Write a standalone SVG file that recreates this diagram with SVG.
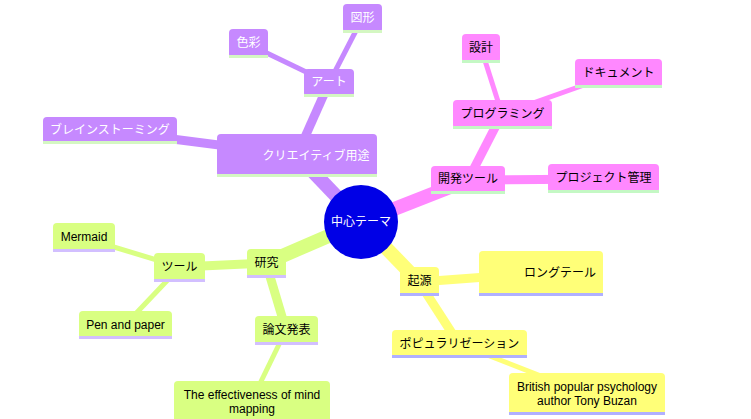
<svg xmlns="http://www.w3.org/2000/svg" width="751" height="419" viewBox="0 0 751 419">
<style>
text{font-family:"Liberation Sans","Noto Sans CJK JP",sans-serif;font-size:12px;text-anchor:middle;dominant-baseline:central}
.w{fill:#ffffff}.k{fill:#000000}
.p{fill:#c689ff}.pl{fill:#d4f7c2}
.m{fill:#ff88ff}.ml{fill:#c4f8c4}
.g{fill:#d9ff82}.gl{fill:#d2bfff}
.y{fill:#ffff78}.yl{fill:#b0b0ff}
line{stroke-linecap:butt}
.e1{stroke-width:14}.e2{stroke-width:9}.e3{stroke-width:5}
.sp{stroke:#c689ff}.sm{stroke:#ff88ff}.sg{stroke:#d9ff82}.sy{stroke:#ffff78}
</style>
<rect width="751" height="419" fill="#ffffff"/>
<g id="connectors">
<line class="sp e1" x1="361" y1="222" x2="297" y2="155"/>
<line class="sp e2" x1="297" y1="155" x2="329" y2="83"/>
<line class="sp e3" x1="329" y1="83" x2="248" y2="44"/>
<line class="sp e3" x1="329" y1="83" x2="362" y2="19"/>
<line class="sp e2" x1="297" y1="155" x2="110" y2="131"/>
<line class="sm e1" x1="361" y1="222" x2="468" y2="180"/>
<line class="sm e2" x1="468" y1="180" x2="502" y2="114"/>
<line class="sm e2" x1="468" y1="180" x2="604" y2="179"/>
<line class="sm e3" x1="502" y1="114" x2="481" y2="48"/>
<line class="sm e3" x1="502" y1="114" x2="618" y2="73"/>
<line class="sg e1" x1="361" y1="222" x2="266" y2="263"/>
<line class="sg e2" x1="266" y1="263" x2="180" y2="267"/>
<line class="sg e2" x1="266" y1="263" x2="286" y2="330"/>
<line class="sg e3" x1="180" y1="267" x2="84" y2="238"/>
<line class="sg e3" x1="180" y1="267" x2="125" y2="325"/>
<line class="sg e3" x1="286" y1="330" x2="252" y2="400"/>
<line class="sy e1" x1="361" y1="222" x2="419" y2="282"/>
<line class="sy e2" x1="419" y1="282" x2="541" y2="273"/>
<line class="sy e2" x1="419" y1="282" x2="459" y2="344"/>
<line class="sy e3" x1="459" y1="344" x2="587" y2="394"/>
</g>
<g id="center"><circle cx="361" cy="222" r="37" fill="#0000e6"/><text class="w" x="361" y="222">中心テーマ</text></g>
<g id="creative"><rect class="p" x="217" y="134" width="160" height="43" rx="4"/><rect class="pl" x="217" y="174" width="160" height="3"/><text class="w" x="316" y="156">クリエイティブ用途</text></g>
<g id="art"><rect class="p" x="304" y="69" width="50" height="28" rx="4"/><rect class="pl" x="304" y="94" width="50" height="3"/><text class="w" x="329" y="82">アート</text></g>
<g id="color"><rect class="p" x="229" y="29" width="39" height="29" rx="4"/><rect class="pl" x="229" y="55" width="39" height="3"/><text class="w" x="248.5" y="43">色彩</text></g>
<g id="shape"><rect class="p" x="343" y="4" width="39" height="29" rx="4"/><rect class="pl" x="343" y="30" width="39" height="3"/><text class="w" x="362.5" y="18">図形</text></g>
<g id="brainstorm"><rect class="p" x="43" y="117" width="134" height="27" rx="4"/><rect class="pl" x="43" y="141" width="134" height="3"/><text class="w" x="110" y="130">ブレインストーミング</text></g>
<g id="devtools"><rect class="m" x="431" y="166" width="74" height="28" rx="4"/><rect class="ml" x="431" y="191" width="74" height="3"/><text class="k" x="468" y="179">開発ツール</text></g>
<g id="pm"><rect class="m" x="548" y="164" width="111" height="29" rx="4"/><rect class="ml" x="548" y="190" width="111" height="3"/><text class="k" x="603.5" y="178">プロジェクト管理</text></g>
<g id="programming"><rect class="m" x="453" y="100" width="99" height="29" rx="4"/><rect class="ml" x="453" y="126" width="99" height="3"/><text class="k" x="502.5" y="114">プログラミング</text></g>
<g id="design"><rect class="m" x="462" y="34" width="38" height="29" rx="4"/><rect class="ml" x="462" y="60" width="38" height="3"/><text class="k" x="481" y="48">設計</text></g>
<g id="document"><rect class="m" x="575" y="59" width="87" height="29" rx="4"/><rect class="ml" x="575" y="85" width="87" height="3"/><text class="k" x="618.5" y="73">ドキュメント</text></g>
<g id="research"><rect class="g" x="247" y="249" width="39" height="29" rx="4"/><rect class="gl" x="247" y="275" width="39" height="3"/><text class="k" x="266.5" y="263">研究</text></g>
<g id="tools"><rect class="g" x="154" y="253" width="51" height="29" rx="4"/><rect class="gl" x="154" y="279" width="51" height="3"/><text class="k" x="179.5" y="267">ツール</text></g>
<g id="mermaid"><rect class="g" x="53" y="223" width="62" height="29" rx="4"/><rect class="gl" x="53" y="249" width="62" height="3"/><text class="k" x="84" y="237">Mermaid</text></g>
<g id="pen"><rect class="g" x="79" y="311" width="93" height="28" rx="4"/><rect class="gl" x="79" y="336" width="93" height="3"/><text class="k" x="125.5" y="325">Pen and paper</text></g>
<g id="paper"><rect class="g" x="255" y="316" width="63" height="29" rx="4"/><rect class="gl" x="255" y="342" width="63" height="3"/><text class="k" x="286.5" y="330">論文発表</text></g>
<g id="effectiveness"><rect class="g" x="174" y="381" width="156" height="44" rx="4"/><text class="k" x="252" y="395">The effectiveness of mind</text><text class="k" x="252" y="409">mapping</text></g>
<g id="origin"><rect class="y" x="400" y="267" width="39" height="29" rx="4"/><rect class="yl" x="400" y="293" width="39" height="3"/><text class="k" x="419.5" y="281">起源</text></g>
<g id="longtail"><rect class="y" x="479" y="251" width="124" height="45" rx="4"/><rect class="yl" x="479" y="293" width="124" height="3"/><text class="k" x="560" y="273">ロングテール</text></g>
<g id="popular"><rect class="y" x="392" y="330" width="135" height="28" rx="4"/><rect class="yl" x="392" y="355" width="135" height="3"/><text class="k" x="459.5" y="344">ポピュラリゼーション</text></g>
<g id="buzan"><rect class="y" x="509" y="373" width="156" height="42" rx="4"/><rect class="yl" x="509" y="412" width="156" height="3"/><text class="k" x="587" y="387">British popular psychology</text><text class="k" x="587" y="401">author Tony Buzan</text></g>
</svg>
